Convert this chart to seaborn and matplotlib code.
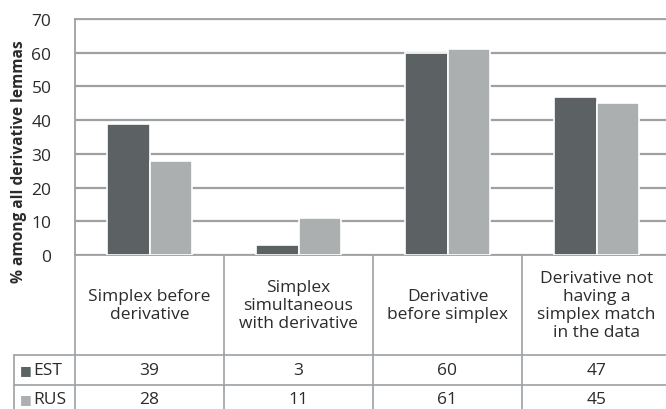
import matplotlib
matplotlib.use("Agg")
import matplotlib.pyplot as plt
from matplotlib.lines import Line2D
import seaborn as sns
import pandas as pd

categories = ["Simplex before\nderivative",
              "Simplex\nsimultaneous\nwith derivative",
              "Derivative\nbefore simplex",
              "Derivative not\nhaving a\nsimplex match\nin the data"]
series = ["EST", "RUS"]
est = [39, 3, 60, 47]
rus = [28, 11, 61, 45]
yticks = [0, 10, 20, 30, 40, 50, 60, 70]
ylabel = "% among all derivative lemmas"

colors = {"EST": "#5b6264", "RUS": "#abafb1"}
grid_c = "#9da1a3"
text_c = "#2b2b2b"

df = pd.DataFrame({
    "category": categories * 2,
    "series": ["EST"] * 4 + ["RUS"] * 4,
    "value": est + rus,
})

sns.set_style("white")
plt.rcParams["font.family"] = ["Open Sans", "DejaVu Sans"]

W, H = 666, 410
fig = plt.figure(figsize=(W / 100, H / 100), dpi=100)

# plot area in pixels
x0, y_top, y_bot = 75, 20, 256
cw = 149  # width of one category column
ax = fig.add_axes([x0 / W, (H - y_bot) / H, 4 * cw / W, (y_bot - y_top) / H])

sns.barplot(data=df, x="category", y="value", hue="series", palette=colors,
            width=0.57, edgecolor="white", linewidth=1.2, ax=ax, legend=False,
            zorder=3)

ax.set_xlim(-0.5, 3.5)
ax.set_ylim(0, 70)
ax.set_yticks(yticks)
ax.set_yticklabels([str(t) for t in yticks], fontsize=12.5, color=text_c)
ax.tick_params(axis="y", length=0, pad=17)
ax.set_xticks([])
ax.set_xlabel("")
ax.set_ylabel("")
ax.grid(axis="y", color=grid_c, linewidth=1.6, zorder=0)
for side in ["left", "top", "bottom"]:
    ax.spines[side].set_color(grid_c)
    ax.spines[side].set_linewidth(1.3)
ax.spines["right"].set_visible(False)

fig.text(19 / W, 1 - 162 / H, ylabel, rotation=90, ha="center", va="center",
         fontsize=11.2, fontweight="bold", color=text_c)


def px(x, y):
    return x / W, 1 - y / H


def hline(xa, xb, y):
    (fa, fy), (fb, _) = px(xa, y), px(xb, y)
    fig.add_artist(Line2D([fa, fb], [fy, fy], color=grid_c, linewidth=1.2))


def vline(x, ya, yb):
    (fx, fa), (_, fb) = px(x, ya), px(x, yb)
    fig.add_artist(Line2D([fx, fx], [fa, fb], color=grid_c, linewidth=1.2))


# data table below the plot
r1, r2, r3 = 356, 386, 416
x_right = x0 + 4 * cw
vline(x0, y_bot, H)
for i in range(1, 4):
    vline(x0 + i * cw, y_bot, H)
vline(14, r1, H)
hline(14, x_right, r1)
hline(14, x_right, r2)

fs = 12.5
for i, cat in enumerate(categories):
    cx = x0 + cw * (i + 0.5)
    fig.text(*px(cx, (y_bot + r1) / 2), cat, ha="center", va="center",
             fontsize=fs, color=text_c, linespacing=1.15)
    fig.text(*px(cx, (r1 + r2) / 2), str(est[i]), ha="center", va="center",
             fontsize=fs, color=text_c)
    fig.text(*px(cx, (r2 + r3) / 2 - 1), str(rus[i]), ha="center", va="center",
             fontsize=fs, color=text_c)

for j, (name, yc) in enumerate([("EST", (r1 + r2) / 2), ("RUS", (r2 + r3) / 2 - 1)]):
    fig.text(*px(20, yc), "\u25a0", ha="left", va="center", fontsize=9,
             color=colors[name], family=["DejaVu Sans"])
    fig.text(*px(33, yc), name, ha="left", va="center", fontsize=fs,
             color=text_c)

fig.savefig("out.png", dpi=100)
